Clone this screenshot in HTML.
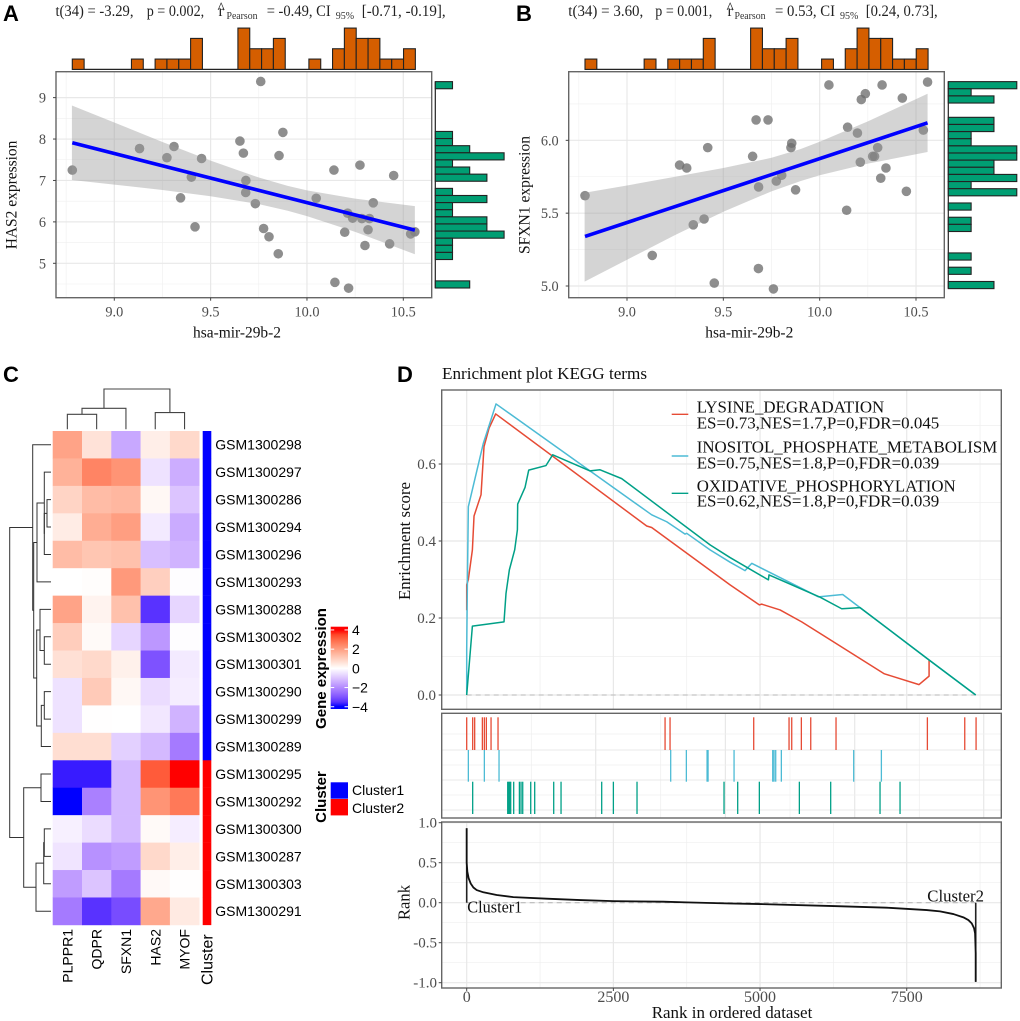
<!DOCTYPE html>
<html lang="en">
<head>
<meta charset="utf-8">
<title>Correlation, heatmap and enrichment figure</title>
<style>
html,body{margin:0;padding:0;background:#fff;}
svg{display:block;}
.serif{font-family:"Liberation Serif",serif;}
.sans{font-family:"Liberation Sans",sans-serif;}
.letter{font-family:"Liberation Sans",sans-serif;font-weight:bold;font-size:22px;fill:#000;}
.stat{font-family:"Liberation Serif",serif;font-size:15.5px;fill:#222;}
.sub{font-family:"Liberation Serif",serif;font-size:10px;fill:#333;}
.axt{font-family:"Liberation Serif",serif;font-size:15.5px;fill:#111;}
.tick{font-family:"Liberation Serif",serif;font-size:14.3px;fill:#4d4d4d;}
.dleg{font-family:"Liberation Serif",serif;font-size:17px;fill:#111;}
.hm{font-family:"Liberation Sans",sans-serif;font-size:14px;fill:#000;}
.hmb{font-family:"Liberation Sans",sans-serif;font-size:15px;font-weight:bold;fill:#000;}
</style>
</head>
<body>
<svg id="fig" xmlns="http://www.w3.org/2000/svg" width="1020" height="1021" viewBox="0 0 1020 1021">
  <rect width="1020" height="1021" fill="#fff"/>
  <defs>
    <linearGradient id="gene-gradient" gradientUnits="userSpaceOnUse" x1="0" y1="630" x2="0" y2="706.7"></linearGradient>
  </defs>

  <g id="layer-a"></g>
  <g id="layer-b"></g>
  <g id="layer-c"></g>
  <g id="layer-d"></g>

  <text class="letter" x="3" y="21">A</text>
  <text class="letter" x="516" y="21">B</text>
  <text class="letter" x="3" y="382">C</text>
  <text class="letter" x="397" y="382">D</text>

  <g>
    <text class="stat" x="55.5" y="16" textLength="78" lengthAdjust="spacingAndGlyphs">t(34) = -3.29,</text>
    <text class="stat" x="146.7" y="16" textLength="57.5" lengthAdjust="spacingAndGlyphs">p = 0.002,</text>
    <text class="stat" x="218.5" y="16">r</text>
    <text class="stat" x="217.5" y="13">^</text>
    <text class="sub" x="226.5" y="19" textLength="31" lengthAdjust="spacingAndGlyphs">Pearson</text>
    <text class="stat" x="266.7" y="16" textLength="64" lengthAdjust="spacingAndGlyphs">= -0.49, CI</text>
    <text class="sub" x="335.7" y="19">95%</text>
    <text class="stat" x="361.7" y="16" textLength="84" lengthAdjust="spacingAndGlyphs">[-0.71,  -0.19],</text>
  </g>
  <g>
    <text class="stat" x="568.3" y="16" textLength="75" lengthAdjust="spacingAndGlyphs">t(34) = 3.60,</text>
    <text class="stat" x="655.3" y="16" textLength="57" lengthAdjust="spacingAndGlyphs">p = 0.001,</text>
    <text class="stat" x="727.5" y="16">r</text>
    <text class="stat" x="726.5" y="13">^</text>
    <text class="sub" x="734.5" y="19" textLength="31" lengthAdjust="spacingAndGlyphs">Pearson</text>
    <text class="stat" x="775" y="16" textLength="60" lengthAdjust="spacingAndGlyphs">= 0.53, CI</text>
    <text class="sub" x="840" y="19">95%</text>
    <text class="stat" x="865.7" y="16" textLength="72" lengthAdjust="spacingAndGlyphs">[0.24, 0.73],</text>
  </g>

  <text class="axt" x="193" y="337.7" textLength="88" lengthAdjust="spacingAndGlyphs">hsa-mir-29b-2</text>
  <text class="axt" x="705.3" y="337.7" textLength="88" lengthAdjust="spacingAndGlyphs">hsa-mir-29b-2</text>
  <text class="axt" transform="translate(16.7,249.3) rotate(-90)" textLength="108.7" lengthAdjust="spacingAndGlyphs">HAS2 expression</text>
  <text class="axt" transform="translate(529.3,254) rotate(-90)" textLength="118" lengthAdjust="spacingAndGlyphs">SFXN1 expression</text>

  <text class="hmb" transform="translate(326,668.5) rotate(-90)" text-anchor="middle">Gene expression</text>
  <text class="hmb" transform="translate(326,797) rotate(-90)" text-anchor="middle">Cluster</text>
  <text class="hm" x="352" y="795">Cluster1</text>
  <text class="hm" x="352" y="813">Cluster2</text>
  <text class="hm" transform="translate(212.7,985) rotate(-90)" style="font-size:16px">Cluster</text>

  <text class="dleg" x="442" y="379" textLength="205" lengthAdjust="spacingAndGlyphs">Enrichment plot KEGG terms</text>
  <text class="axt" transform="translate(410,600) rotate(-90)" textLength="118" lengthAdjust="spacingAndGlyphs" style="font-size:17px">Enrichment score</text>
  <text class="axt" transform="translate(409.5,920) rotate(-90)" textLength="35" lengthAdjust="spacingAndGlyphs" style="font-size:17px">Rank</text>
  <text class="dleg" x="651.7" y="1018" textLength="160.6" lengthAdjust="spacingAndGlyphs">Rank in ordered dataset</text>
</svg>

<script>
/* ---------- Panels A and B: scatter data ---------- */
const mirValues = [8.782,9.131,9.31,9.273,9.453,9.40,9.344,9.419,9.652,9.67,9.683,9.682,9.732,9.76,9.875,9.855,9.775,9.803,9.851,10.048,10.14,10.145,10.216,10.211,10.237,10.285,10.324,10.196,10.317,10.301,10.275,10.344,10.45,10.429,10.538,10.56];
const has2Values = [7.25,7.77,7.82,7.55,7.53,7.08,6.58,5.88,7.95,7.66,7.0,6.71,6.44,9.39,8.16,7.6,5.84,5.64,5.23,6.57,7.25,4.54,4.4,6.21,6.09,6.08,6.08,5.75,5.81,5.43,7.37,6.46,7.12,5.47,5.71,5.76];
const sfxn1Values = [5.62,5.21,5.81,5.83,5.02,5.46,5.42,5.95,5.89,6.14,5.68,5.12,6.14,4.98,5.66,5.98,5.72,5.76,5.95,6.38,5.52,6.09,6.28,5.85,6.32,5.89,6.38,6.05,5.74,5.95,5.89,5.81,5.65,6.29,6.07,6.40];
const fitX = [8.782,10.56];
const has2Fit = [7.91,5.80];
const sfxn1Fit = [5.34,6.12];
const ribbonX = [8.78,9.0,9.25,9.5,9.75,9.9,10.0,10.25,10.56];
const has2Upper = [8.81,8.40,7.93,7.48,7.07,6.87,6.76,6.56,6.38];
const has2Lower = [7.01,6.90,6.77,6.62,6.43,6.27,6.14,5.76,5.22];
const sfxn1Upper = [5.64,5.69,5.75,5.81,5.88,5.94,5.99,6.13,6.32];
const sfxn1Lower = [5.03,5.18,5.35,5.51,5.65,5.72,5.76,5.84,5.92];
const mirHistCounts = [1,0,0,0,0,1,0,1,1,1,3,0,0,0,4,2,2,3,0,0,1,0,2,4,3,3,1,1,2];
const has2HistCounts = [1,0,0,0,0,0,0,1,1,2,4,1,2,3,0,1,3,1,1,3,3,4,1,1,1,0,0,0,2];
const sfxn1HistCounts = [3,1,2,0,0,2,2,1,1,3,3,2,2,3,1,3,0,1,0,1,1,0,0,0,1,0,1,0,2];
const scatterXTicks = [9,9.5,10,10.5];
const scatterXMinor = [8.75,9.25,9.75,10.25];
const has2YTicks = [5,6,7,8,9];
const has2YMinor = [4.5,5.5,6.5,7.5,8.5];
const sfxn1YTicks = [5,5.5,6];
const sfxn1YMinor = [5.25,5.75,6.25];

/* ---------- Panel C: heatmap data ---------- */
const geneNames = ["PLPPR1","QDPR","SFXN1","HAS2","MYOF"];
const sampleNames = ["GSM1300298","GSM1300297","GSM1300286","GSM1300294","GSM1300296","GSM1300293","GSM1300288","GSM1300302","GSM1300301","GSM1300290","GSM1300299","GSM1300289","GSM1300295","GSM1300292","GSM1300300","GSM1300287","GSM1300303","GSM1300291"];
const clusterBySample = [1,1,1,1,1,1,1,1,1,1,1,1,2,2,2,2,2,2];
const expressionRow0 = [1.9,.6,-1.5,.35,.8];
const expressionRow1 = [1.6,2.5,2.2,-.5,-1.4];
const expressionRow2 = [.9,1.4,1.5,.15,-1.0];
const expressionRow3 = [.4,1.7,2.0,-.35,-1.45];
const expressionRow4 = [1.4,1.2,1.3,-1.1,-1.3];
const expressionRow5 = [0,.05,2.1,1.0,-.03];
const expressionRow6 = [1.9,.25,1.3,-3.5,-.7];
const expressionRow7 = [1.05,.1,-.7,-1.8,-.03];
const expressionRow8 = [.65,.8,.3,-3.0,-.35];
const expressionRow9 = [-.5,1.1,.15,-.6,-.3];
const expressionRow10 = [-.5,.02,0,-.4,-1.3];
const expressionRow11 = [.7,.7,-.8,-1.2,-2.3];
const expressionRow12 = [-3.8,-3.8,-1.2,3.2,4];
const expressionRow13 = [-4,-2.2,-1.2,2.2,2.7];
const expressionRow14 = [-.25,-.6,-1.2,.1,-.3];
const expressionRow15 = [-.45,-1.9,-1.7,.8,.35];
const expressionRow16 = [-1.7,-1.0,-2.3,.12,.02];
const expressionRow17 = [-2.3,-3.5,-3.1,1.8,.45];
const expressionMatrix = [expressionRow0,expressionRow1,expressionRow2,expressionRow3,expressionRow4,expressionRow5,expressionRow6,expressionRow7,expressionRow8,expressionRow9,expressionRow10,expressionRow11,expressionRow12,expressionRow13,expressionRow14,expressionRow15,expressionRow16,expressionRow17];
const legendTicks = [4,2,0,-2,-4];
/* dendrograms: [mergeHeight, childA, childB], a number is a leaf index */
const rowTree = [41.3,
  [18.3, 0,
    [17.3,
      [14, [6.7, 1, [6.7, [4, 2, 3], 4]], 5],
      [14.3, [11, 6, [6.7, 7, 8]], [9.7, [6.7, 9, 10], 11]]
    ]
  ],
  [27.3, [10, 12, 13], [15, [7.3, [6.7, 14, 15], 16], 17]]
];
const colTree = [40.3, [21, [15, 0, 1], 2], [16.7, 3, 4]];

/* ---------- Panel D: enrichment data ---------- */
const lysineRank = [0,0,28,97,125,244,295,381,494,3068,3153,4489,4988,5028,5341,5710,7119,7710,7881,7881];
const lysineES = [.22,.286,.30,.377,.465,.52,.645,.693,.73,.439,.435,.286,.234,.236,.221,.19,.055,.027,.049,.091];
const inositolRank = [0,0,11,28,284,500,3153,3409,3722,3750,4148,4489,4744,4858,5994,6409,6704,7881,8676];
const inositolES = [0,.117,.28,.489,.654,.756,.468,.45,.418,.42,.377,.345,.323,.342,.255,.261,.227,.091,0];
const oxidativeRank = [0,97,636,670,727,818,864,869,994,1057,1352,1466,2102,2273,2642,4148,4489,5142,5153,6023,6392,6704,7881,8676];
const oxidativeES = [0,.179,.19,.264,.325,.377,.429,.496,.539,.584,.596,.624,.582,.585,.562,.39,.357,.299,.312,.254,.224,.227,.091,0];
const lysineHits = [0,102,136,267,301,335,415,534,3381,3466,4892,5494,5540,5704,5864,6295,7852,8489,8682];
const inositolHits = [28,301,551,3477,3744,4097,4114,4557,5216,5238,5267,5363,6596,7068];
const oxidativeHits = [102,699,716,733,750,801,898,926,955,1091,1159,1483,1608,2301,2500,2903,4386,4619,4988,5670,6204,7045,7386];
const rankCurveX = [0,0,11,34,68,114,170,284,511,795,1364,1932,2500,3352,3750,4489,5000,6250,7159,7841,8068,8296,8466,8551,8608,8648,8665,8676,8676];
const rankCurveY = [.93,.5,.3875,.304,.24,.19,.158,.13,.096,.07,.05,.033,.02,.0125,.004,-.01,-.017,-.042,-.0625,-.092,-.108,-.142,-.183,-.217,-.258,-.32,-.383,-.633,-.9875];
const rankXTicks = [0,2500,5000,7500];
const rankXMinor = [1250,3750,6250,8750];
const esYTicks = [0,.2,.4,.6];
const esYMinor = [.1,.3,.5,.7];
const rankYTicks = [1,.5,0,-.5,-1];
const rankYMinor = [.75,.25,-.25,-.75];
const legendEntries = ["LYSINE_DEGRADATION","ES=0.73,NES=1.7,P=0,FDR=0.045","INOSITOL_PHOSPHATE_METABOLISM","ES=0.75,NES=1.8,P=0,FDR=0.039","OXIDATIVE_PHOSPHORYLATION","ES=0.62,NES=1.8,P=0,FDR=0.039"];

/* ---------- helpers ---------- */
const NS = 'http://www.w3.org/2000/svg';
function el(tag, attrs, parent) {
  const e = document.createElementNS(NS, tag);
  for (const k in attrs) e.setAttribute(k, attrs[k]);
  parent.appendChild(e);
  return e;
}
function fmt(v, d) { return Number(v).toFixed(d); }

function gridLines(parent, xs, ys, x, y, box, width, color) {
  xs.forEach(function (v) {
    const l = el('line', {x1: x(v), x2: x(v), y1: box.top, y2: box.bottom, stroke: color, 'stroke-width': width}, parent);
    
    
  });
  ys.forEach(function (v) {
    const l = el('line', {x1: box.left, x2: box.right, y1: y(v), y2: y(v), stroke: color, 'stroke-width': width}, parent);
    
    
  });
}
function panelBorder(parent, box) {
  const r = el('rect', {x: box.left, y: box.top, width: box.right - box.left, height: box.bottom - box.top, fill: 'none', stroke: '#666', 'stroke-width': 1.4}, parent);
  
  
}
function yTicks(parent, vals, y, box, decimals, size, labelX) {
  vals.forEach(function (v) {
    const t = el('line', {x1: box.left - 3, x2: box.left, y1: y(v), y2: y(v), stroke: '#444', 'stroke-width': 1}, parent);
    
    
    const l = el('text', {x: labelX, y: y(v) + 5, 'text-anchor': 'end', class: 'tick', style: 'font-size:' + size + 'px'}, parent);
    
    
    l.textContent = fmt(v, decimals);
  });
}
function xTicks(parent, vals, x, box, decimals, size, baseY) {
  vals.forEach(function (v) {
    const t = el('line', {x1: x(v), x2: x(v), y1: box.bottom, y2: box.bottom + 3, stroke: '#444', 'stroke-width': 1}, parent);
    
    
    const l = el('text', {x: x(v), y: baseY, 'text-anchor': 'middle', class: 'tick', style: 'font-size:' + size + 'px'}, parent);
    
    
    l.textContent = fmt(v, decimals);
  });
}

/* ---------- scatter panels ---------- */
function scatterPanel(cfg) {
  const g = document.getElementById(cfg.layer);
  const x = cfg.x, y = cfg.y, box = cfg.box;
  const bg = el('rect', {x: box.left, y: box.top, width: box.right - box.left, height: box.bottom - box.top, fill: '#fff'}, g);
  
  
  gridLines(g, scatterXMinor, cfg.yMinor, x, y, box, .6, '#efefef');
  gridLines(g, scatterXTicks, cfg.yTicks, x, y, box, 1.2, '#e8e8e8');

  mirValues.forEach(function (v, i) {
    const c = el('circle', {cx: x(v), cy: y(cfg.values[i]), r: 4.8, fill: '#6e6e6e', 'fill-opacity': .78}, g);
    
    
  });

  let pts = [];
  ribbonX.forEach(function (v, i) { pts.push(x(v) + ',' + y(cfg.upper[i])); });
  for (let i = ribbonX.length - 1; i >= 0; i--) pts.push(x(ribbonX[i]) + ',' + y(cfg.lower[i]));
  const rib = el('polygon', {points: pts.join(' '), fill: '#999', 'fill-opacity': .42}, g);
  
  

  const fit = el('line', {x1: x(fitX[0]), y1: y(cfg.fit[0]), x2: x(fitX[1]), y2: y(cfg.fit[1]), stroke: '#0000ff', 'stroke-width': 3.6}, g);
  
  

  panelBorder(g, box);
  xTicks(g, scatterXTicks, x, box, 1, 14.3, 316.7);
  yTicks(g, cfg.yTicks, y, box, cfg.yDecimals, 14.3, box.left - 10);

  /* top histogram */
  const binStart = 8.782, binWidth = .0614, baseY = 69.4, unitH = 10.33;
  const base = el('line', {x1: x(binStart), x2: x(binStart + binWidth * mirHistCounts.length), y1: baseY, y2: baseY, stroke: '#222', 'stroke-width': 1.2}, g);
  
  
  mirHistCounts.forEach(function (n, i) {
    if (!n) return;
    const b = el('rect', {x: x(binStart + i * binWidth), y: baseY - n * unitH, width: x(binWidth) - x(0), height: n * unitH, fill: '#D55E00', stroke: '#222', 'stroke-width': 1.1}, g);
    
    
  });

  /* right histogram */
  const hx = cfg.histLeft, hu = cfg.histUnit, binTop = cfg.binTop, binH = cfg.binHeight;
  const vbase = el('line', {x1: hx, x2: hx, y1: y(binTop), y2: y(binTop - binH * cfg.histCounts.length), stroke: '#222', 'stroke-width': 1.2}, g);
  
  
  cfg.histCounts.forEach(function (n, i) {
    if (!n) return;
    const top = y(binTop - i * binH), bottom = y(binTop - (i + 1) * binH);
    const b = el('rect', {x: hx, y: top, width: n * hu, height: bottom - top, fill: '#009E73', stroke: '#222', 'stroke-width': 1.1}, g);
    
    
  });
}

scatterPanel({
  layer: 'layer-a',
  box: {left: 56, right: 431.7, top: 71.7, bottom: 297.7},
  x: function (v) { return 114.3 + (v - 9) * 192.67; },
  y: function (v) { return 263.3 - (v - 5) * 41.42; },
  values: has2Values, upper: has2Upper, lower: has2Lower, fit: has2Fit,
  yTicks: has2YTicks, yMinor: has2YMinor, yDecimals: 0,
  histCounts: has2HistCounts, histLeft: 435.3, histUnit: 17.2, binTop: 9.386, binHeight: .1718
});
scatterPanel({
  layer: 'layer-b',
  box: {left: 568.7, right: 944.3, top: 71.7, bottom: 297.7},
  x: function (v) { return 627 + (v - 9) * 192.67; },
  y: function (v) { return 286 - (v - 5) * 145.67; },
  values: sfxn1Values, upper: sfxn1Upper, lower: sfxn1Lower, fit: sfxn1Fit,
  yTicks: sfxn1YTicks, yMinor: sfxn1YMinor, yDecimals: 1,
  histCounts: sfxn1HistCounts, histLeft: 948.3, histUnit: 22.83, binTop: 6.403, binHeight: .049
});

/* ---------- heatmap ---------- */
function labToRgb(L, a, b) {
  const fy = (L + 16) / 116, fx = fy + a / 500, fz = fy - b / 200;
  const f = function (t) { return t > 0.2069 ? t * t * t : (t - 16 / 116) / 7.787; };
  const X = .95047 * f(fx), Y = f(fy), Z = 1.08883 * f(fz);
  const lin = [3.2406 * X - 1.5372 * Y - .4986 * Z, -.9689 * X + 1.8758 * Y + .0415 * Z, .0557 * X - .204 * Y + 1.057 * Z];
  return lin.map(function (c) {
    c = Math.max(0, Math.min(1, c));
    c = c <= .0031308 ? 12.92 * c : 1.055 * Math.pow(c, 1 / 2.4) - .055;
    return Math.round(c * 255);
  });
}
function expressionColor(v) {
  const t = Math.min(1, Math.abs(v) / 4);
  const end = v >= 0 ? [53.24, 80.09, 67.2] : [32.3, 79.19, -107.86];
  const c = labToRgb(100 + (end[0] - 100) * t, end[1] * t, end[2] * t);
  return 'rgb(' + c.join(',') + ')';
}
(function () {
  const g = document.getElementById('layer-c');
  const left = 52.7, top = 431, cellW = 29.3, cellH = 27.44;
  const colCenter = function (j) { return left + (j + .5) * cellW; };
  const rowCenter = function (i) { return top + (i + .5) * cellH; };

  expressionMatrix.forEach(function (row, i) {
    row.forEach(function (v, j) {
      const r = el('rect', {x: left + j * cellW, y: top + i * cellH, width: cellW + .3, height: cellH + .3, fill: expressionColor(v)}, g);
      
      
    });
  });
  sampleNames.forEach(function (name, i) {
    const r = el('rect', {x: 202.7, y: top + i * cellH, width: 8.6, height: cellH + .2, fill: clusterBySample[i] === 1 ? '#0000ff' : '#ff0000'}, g);
    
    
    const t = el('text', {x: 215.3, y: rowCenter(i) + 5, class: 'hm'}, g);
    
    
    t.textContent = name;
  });
  geneNames.forEach(function (name, j) {
    const t = el('text', {transform: 'translate(' + (colCenter(j) + 5) + ',929) rotate(-90)', 'text-anchor': 'end', class: 'hm'}, g);
    
    
    t.textContent = name;
  });

  /* row dendrogram */
  function drawRow(node) {
    if (typeof node === 'number') return {pos: rowCenter(node), x: 51};
    const a = drawRow(node[1]), b = drawRow(node[2]);
    const x = 51 - node[0];
    const p = el('path', {d: 'M' + a.x + ' ' + a.pos + 'H' + x + 'V' + b.pos + 'H' + b.x, fill: 'none', stroke: '#333', 'stroke-width': 1}, g);
    
    
    return {pos: (a.pos + b.pos) / 2, x: x};
  }
  drawRow(rowTree);

  /* column dendrogram */
  function drawCol(node) {
    if (typeof node === 'number') return {pos: left + (node + .5) * cellW, y: 429.3};
    const a = drawCol(node[1]), b = drawCol(node[2]);
    const y = 429.3 - node[0];
    const p = el('path', {d: 'M' + a.pos + ' ' + a.y + 'V' + y + 'H' + b.pos + 'V' + b.y, fill: 'none', stroke: '#444', 'stroke-width': 1.1}, g);
    
    
    return {pos: (a.pos + b.pos) / 2, y: y};
  }
  drawCol(colTree);

  /* gradient legend */
  const grad = document.getElementById('gene-gradient');
  for (let k = 0; k <= 16; k++) {
    el('stop', {offset: k / 16, 'stop-color': expressionColor(4 - k / 2)}, grad);
  }
  const bar = el('rect', {x: 330.7, y: 626.7, width: 17.3, height: 82.3, fill: 'url(#gene-gradient)'}, g);
  
  
  const legendY = function (v) { return 668.35 - v * 9.6; };
  legendTicks.forEach(function (v) {
    const y = legendY(v);
    const t1 = el('line', {x1: 330.7, x2: 334.2, y1: y, y2: y, stroke: '#fff', 'stroke-width': 1}, g);
    
    
    const t2 = el('line', {x1: 344.5, x2: 348, y1: y, y2: y, stroke: '#fff', 'stroke-width': 1}, g);
    
    
    const l = el('text', {x: 352, y: y + 5, class: 'hm'}, g);
    
    
    l.textContent = v < 0 ? '\u2212' + Math.abs(v) : String(v);
  });
  const s1 = el('rect', {x: 330.7, y: 782.3, width: 17.3, height: 16.4, fill: '#0000ff'}, g);
  
  
  const s2 = el('rect', {x: 330.7, y: 799, width: 17.3, height: 16.4, fill: '#ff0000'}, g);
  
  
})();

/* ---------- enrichment panel ---------- */
(function () {
  const g = document.getElementById('layer-d');
  const rankX = function (v) { return 466.7 + v * .05867; };
  const esY = function (v) { return 695 - v * 385; };
  const rankY = function (v) { return 902.7 - v * 80; };
  const hitX = function (v) { return rankX(v); };
  const topBox = {left: 441.7, right: 1001.3, top: 390, bottom: 709.3};
  const midBox = {left: 441.7, right: 1001.3, top: 713.3, bottom: 818};
  const lowBox = {left: 441.7, right: 1001.3, top: 822, bottom: 988};
  const RED = '#E64B35', BLUE = '#4DBBD5', GREEN = '#00A087';

  function polyline(xs, ys, x, y, color, width, name) {
    const pts = xs.map(function (v, i) { return x(v) + ',' + y(ys[i]); }).join(' ');
    return el('polyline', {points: pts, fill: 'none', stroke: color, 'stroke-width': width, 'stroke-linejoin': 'round'}, g);
  }

  /* top panel */
  gridLines(g, rankXMinor, esYMinor, rankX, esY, topBox, .7, '#efefef');
  gridLines(g, rankXTicks, esYTicks, rankX, esY, topBox, 1.2, '#e8e8e8');
  const zero = el('line', {x1: rankX(0), x2: rankX(8676), y1: esY(0), y2: esY(0), stroke: '#bbb', 'stroke-width': 1.1, 'stroke-dasharray': '5 4'}, g);
  
  
  const c1 = polyline(lysineRank, lysineES, rankX, esY, RED, 1.5);
  
  
  const c2 = polyline(inositolRank, inositolES, rankX, esY, BLUE, 1.5);
  
  
  const c3 = polyline(oxidativeRank, oxidativeES, rankX, esY, GREEN, 1.5);
  
  
  panelBorder(g, topBox);
  yTicks(g, esYTicks, esY, topBox, 1, 15, 436);

  /* legend */
  [[414.3, RED], [456, BLUE], [493.3, GREEN]].forEach(function (row) {
    const k = el('line', {x1: 671.7, x2: 688.3, y1: row[0], y2: row[0], stroke: row[1], 'stroke-width': 1.4}, g);
    
    
  });
  const legY = [412.7, 428.7, 452.7, 468.7, 491.7, 506.7];
  const legW = [187.5, 242.6, 300.6, 242.6, 259, 242.6];
  legendEntries.forEach(function (s, i) {
    const t = el('text', {x: 696.7, y: legY[i], class: 'dleg', textLength: legW[i], lengthAdjust: 'spacingAndGlyphs'}, g);
    
    
    t.textContent = s;
  });

  /* middle panel: gene hit rug */
  const midMajor = [595.7, 725.4, 854.7, 983.7], midMinor = [531.3, 660.7, 790, 919.3];
  midMinor.forEach(function (x) {
    const l = el('line', {x1: x, x2: x, y1: midBox.top, y2: midBox.bottom, stroke: '#efefef', 'stroke-width': .7}, g);
    
    
  });
  midMajor.forEach(function (x) {
    const l = el('line', {x1: x, x2: x, y1: midBox.top, y2: midBox.bottom, stroke: '#e8e8e8', 'stroke-width': 1.2}, g);
    
    
  });
  [734, 750, 765, 780, 795, 810].forEach(function (y, i) {
    const l = el('line', {x1: midBox.left, x2: midBox.right, y1: y, y2: y, stroke: i % 2 ? '#e8e8e8' : '#efefef', 'stroke-width': i % 2 ? 1.1 : .8}, g);
    
    
  });
  function rug(hits, y0, y1, color, name) {
    hits.forEach(function (v) {
      const l = el('line', {x1: hitX(v), x2: hitX(v), y1: y0, y2: y1, stroke: color, 'stroke-width': 1.3}, g);
      
      
    });
  }
  rug(lysineHits, 717.3, 750, RED, 'lysine-hit');
  rug(inositolHits, 750, 781.7, BLUE, 'inositol-hit');
  rug(oxidativeHits, 781.7, 814, GREEN, 'oxidative-hit');
  panelBorder(g, midBox);

  /* bottom panel */
  gridLines(g, rankXMinor, rankYMinor, rankX, rankY, lowBox, .7, '#efefef');
  gridLines(g, rankXTicks, rankYTicks, rankX, rankY, lowBox, 1.2, '#e8e8e8');
  const zero2 = el('line', {x1: rankX(0), x2: rankX(8676), y1: rankY(0), y2: rankY(0), stroke: '#bbb', 'stroke-width': 1.1, 'stroke-dasharray': '5 4'}, g);
  
  
  const start = el('line', {x1: rankX(0), x2: rankX(0), y1: rankY(0), y2: rankY(.93), stroke: '#222', 'stroke-width': 1.6}, g);
  
  
  const end = el('line', {x1: rankX(8676), x2: rankX(8676), y1: rankY(0), y2: rankY(-.99), stroke: '#222', 'stroke-width': 1.6}, g);
  
  
  const curve = polyline(rankCurveX, rankCurveY, rankX, rankY, '#111', 1.8);
  
  
  panelBorder(g, lowBox);
  yTicks(g, rankYTicks, rankY, lowBox, 1, 15, 437);
  xTicks(g, rankXTicks, rankX, lowBox, 0, 16, 1002);

  const lab1 = el('text', {x: 467.3, y: 912.7, class: 'dleg', textLength: 55, lengthAdjust: 'spacingAndGlyphs'}, g);
  
  
  lab1.textContent = 'Cluster1';
  const lab2 = el('text', {x: 927.3, y: 901.7, class: 'dleg', textLength: 56.7, lengthAdjust: 'spacingAndGlyphs'}, g);
  
  
  lab2.textContent = 'Cluster2';
})();
</script>
</body>
</html>
